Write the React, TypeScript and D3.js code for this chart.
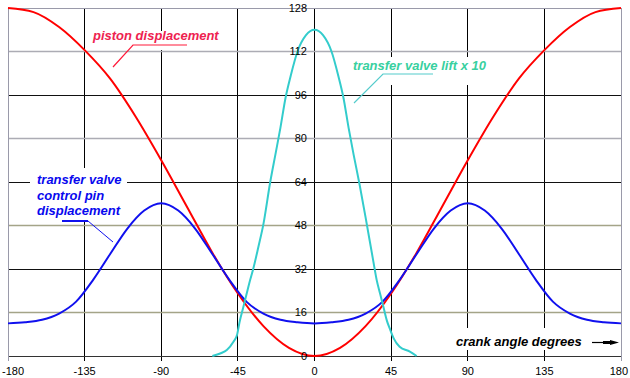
import React from "react";
import * as d3 from "d3";

const xTicks = [-180, -135, -90, -45, 0, 45, 90, 135, 180];
const yTicks = [0, 16, 32, 48, 64, 80, 96, 112, 128];
const darkGridY = [32, 64, 96];
const lightGridY = [16, 48, 80, 112];

const pistonAngles = [-180, -165, -150, -135, -120, -105, -90, -75, -60, -45, -30, -15, 0, 15, 30, 45, 60, 75, 90, 105, 120, 135, 150, 165, 180];
const pistonValues = [128, 126.5, 121, 112.5, 102, 88, 72, 55, 38, 23, 11, 3, 0, 3, 11, 23, 38, 55, 72, 88, 102, 112.5, 121, 126.5, 128];

const pinAngles = [-180, -170, -160, -150, -140, -130, -120, -110, -100, -90, -80, -70, -60, -50, -40, -30, -20, -10, 0, 10, 20, 30, 40, 50, 60, 70, 80, 90, 100, 110, 120, 130, 140, 150, 160, 170, 180];
const pinValues = [12, 12.4, 13.3, 15.6, 20, 28, 37.5, 46.8, 53.5, 56.2, 53.5, 46.8, 37.5, 28, 20, 15.6, 13.3, 12.4, 12, 12.4, 13.3, 15.6, 20, 28, 37.5, 46.8, 53.5, 56.2, 53.5, 46.8, 37.5, 28, 20, 15.6, 13.3, 12.4, 12];

const liftAngles = [-60, -55, -51.5, -47.5, -45.5, -44, -42, -40, -38, -36, -33, -30, -26, -23, -20, -17, -14, -10, -5, 0, 5, 10, 14, 17, 20, 23, 26.5, 30, 34.5, 36.5, 38.5, 40.5, 42.5, 44.5, 46.5, 50, 56, 60];
const liftValues = [0, 1, 2.2, 5.3, 7.7, 12.5, 17.5, 22.5, 27.5, 32, 40, 48.5, 64, 74, 84, 95, 103, 112, 118, 120, 118, 112, 103, 95, 84, 74, 63, 51, 35, 28, 23, 18, 13, 9.6, 6.5, 3.4, 1.6, 0];

const pistonLabel = "piston displacement";
const liftLabel = "transfer valve lift x 10";
const pinLabel = ["transfer valve", "control pin", "displacement"];
const axisLabel = "crank angle degrees";

export default function App() {
  const W = 630, H = 378;
  const x = d3.scaleLinear().domain([-180, 180]).range([8, 621]);
  const y = d3.scaleLinear().domain([0, 128]).range([356, 8]);
  const line = (angles: number[], values: number[]) =>
    d3.line<number>().x((_, i) => x(angles[i])).y((v) => y(v)).curve(d3.curveMonotoneX)(values) || "";

  const font = "'Liberation Sans', Arial, sans-serif";
  const lblStyle = { fontFamily: font, fontSize: 13, fontWeight: 700, fontStyle: "italic" as const };

  return (
    <svg width={W} height={H} style={{ position: "fixed", left: 0, top: 0 }} xmlns="http://www.w3.org/2000/svg">
      <rect x={0} y={0} width={W} height={H} fill="#fff" />
      {xTicks.slice(1, -1).map((t) => (
        <line key={"v" + t} x1={x(t)} x2={x(t)} y1={y(128)} y2={y(0) + 5} stroke="#000" strokeWidth={1} shapeRendering="crispEdges" />
      ))}
      {darkGridY.map((t) => (
        <line key={"hd" + t} x1={x(-180)} x2={x(180)} y1={y(t)} y2={y(t)} stroke="#111" strokeWidth={1} shapeRendering="crispEdges" />
      ))}
      <line x1={x(-180)} x2={x(180)} y1={y(0)} y2={y(0)} stroke="#333" strokeWidth={1} shapeRendering="crispEdges" />
      <rect x={90} y={31} width={132} height={19} fill="#fff" />
      <rect x={350} y={57} width={138} height={28} fill="#fff" />
      <rect x={30} y={168} width={97} height={54} fill="#fff" />
      <rect x={452} y={328} width={166} height={22} fill="#fff" />
      {lightGridY.map((t) => (
        <line key={"hl" + t} x1={x(-180)} x2={x(180)} y1={y(t)} y2={y(t)} stroke={t === 16 || t === 48 ? "#a4a488" : "#acacb4"} strokeWidth={1.6} />
      ))}
      <line x1={x(-180)} x2={x(180)} y1={y(128)} y2={y(128)} stroke="#9a9aaa" strokeWidth={1} shapeRendering="crispEdges" />
      <line x1={x(-180)} x2={x(-180)} y1={y(128)} y2={y(0) + 5} stroke="#9a9aaa" strokeWidth={1} shapeRendering="crispEdges" />
      <line x1={x(180)} x2={x(180)} y1={y(128)} y2={y(0) + 5} stroke="#9a9aaa" strokeWidth={1} shapeRendering="crispEdges" />
      <path d={line(pistonAngles, pistonValues)} fill="none" stroke="#ff0000" strokeWidth={2} />
      <path d={line(pinAngles, pinValues)} fill="none" stroke="#1010ee" strokeWidth={2} />
      <path d={line(liftAngles, liftValues)} fill="none" stroke="#33cccc" strokeWidth={2} />
      <polyline points="187,45 133,45 113,67" fill="none" stroke="#ff1a3a" strokeWidth={1.2} />
      <polyline points="433,74 383,74 354,103" fill="none" stroke="#55cccc" strokeWidth={1.2} />
      <line x1={62} x2={88} y1={221} y2={221} stroke="#1010ee" strokeWidth={2} />
      <line x1={88} x2={113} y1={221} y2={242} stroke="#1010ee" strokeWidth={1} />
      <text x={93} y={40} fill="#ee2250" style={lblStyle}>{pistonLabel}</text>
      <text x={353} y={69.5} fill="#38d0a0" style={lblStyle}>{liftLabel}</text>
      {pinLabel.map((s, i) => (
        <text key={s} x={37} y={184 + i * 15.5} fill="#0808ee" style={lblStyle}>{s}</text>
      ))}
      <text x={456} y={346} fill="#000" style={lblStyle}>{axisLabel}</text>
      <line x1={592} x2={612} y1={342.5} y2={342.5} stroke="#000" strokeWidth={1.2} />
      <rect x={603} y={341} width={8} height={3} fill="#000" />
      <polygon points="610,340 619,342.5 610,345" fill="#000" />
      {yTicks.map((t) => (
        <text key={"yl" + t} x={307} y={y(t)} dy="0.35em" textAnchor="end" fontFamily={font} fontSize={11} fill="#000">{t}</text>
      ))}
      {xTicks.map((t, i) => (
        <text key={"xl" + t} x={i === 0 ? 2 : i === xTicks.length - 1 ? 628 : x(t)} y={375} textAnchor={i === 0 ? "start" : i === xTicks.length - 1 ? "end" : "middle"} fontFamily={font} fontSize={11} fill="#000">{t}</text>
      ))}
    </svg>
  );
}
